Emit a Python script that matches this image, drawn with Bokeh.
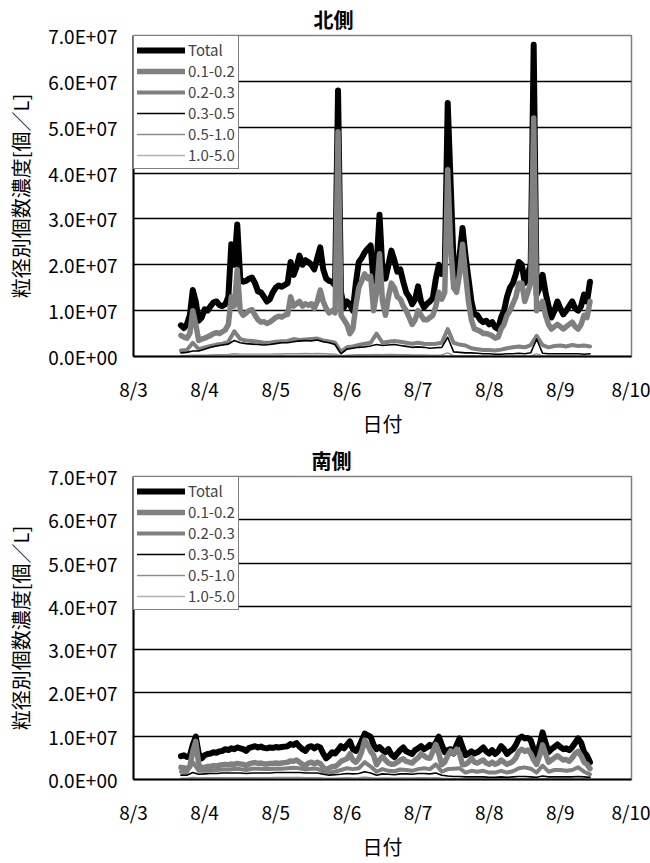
import numpy as np
from bokeh.plotting import figure
from bokeh.layouts import column
from bokeh.models import FixedTicker, Legend, LegendItem
from bokeh.embed import file_html
from bokeh.resources import INLINE

FONT = "Noto Sans CJK JP"

# ---- axis ticks / labels ----
day_ticks = [3, 4, 5, 6, 7, 8, 9, 10]
day_labels = ["8/3", "8/4", "8/5", "8/6", "8/7", "8/8", "8/9", "8/10"]
y_ticks = [0, 10000000, 20000000, 30000000, 40000000, 50000000, 60000000, 70000000]
y_labels = ["0.0E+00", "1.0E+07", "2.0E+07", "3.0E+07", "4.0E+07", "5.0E+07", "6.0E+07", "7.0E+07"]

series_names = ["Total", "0.1-0.2", "0.2-0.3", "0.3-0.5", "0.5-1.0", "1.0-5.0"]

# first sample: 8/3 16:00 ; hourly for Total / 0.1-0.2, 2-hourly for the rest
START_HOUR = 16
UNIT = 1e6  # values below are in 1E+06 個/L

# ================= 北側 =================
north_total = [
    6.8, 6.2, 7.0, 9.0, 14.5, 12.0, 7.8, 8.5,
    10.3, 10.0, 11.0, 11.8, 12.0, 11.2, 11.0, 11.4, 13.0, 24.5, 20.0, 28.8, 17.0, 16.3, 16.5, 17.0,
    17.2, 16.0, 14.2, 14.0, 13.0, 12.0, 12.5, 14.0,
    15.0, 15.5, 15.2, 15.6, 16.0, 20.6, 17.8, 19.5, 22.0, 20.0, 21.0, 20.6, 20.0, 19.0, 21.5, 23.8,
    19.0, 17.0, 16.5, 16.3, 15.5, 58.0, 14.0, 10.7,
    12.0, 11.4, 10.0, 16.0, 20.6, 21.5, 22.7, 23.5, 24.2, 16.3, 20.0, 30.9, 18.5, 17.0, 20.0, 23.1,
    21.0, 18.5, 19.0, 16.3, 14.0, 13.0, 11.4, 12.5,
    15.3, 12.0, 10.7, 11.5, 12.0, 12.8, 17.0, 20.0, 18.0, 19.2, 55.3, 37.5, 20.0, 17.0, 22.0, 28.0,
    22.0, 17.0, 12.0, 9.2, 9.0, 8.0, 7.5, 7.8,
    7.0, 7.5, 6.4, 6.0, 8.5, 10.0, 13.0, 15.0, 16.0, 18.0, 20.6, 20.0, 16.0, 18.0, 20.0, 68.0,
    13.5, 15.0, 17.8, 14.0, 11.0, 8.5, 10.0, 12.0,
    10.5, 9.2, 10.0, 11.0, 12.0, 10.5, 10.0, 11.0, 13.5, 12.0, 16.3,
]
north_01_02 = [
    4.6, 4.2, 4.0, 5.0, 10.0, 7.0, 3.5, 3.8,
    4.0, 4.3, 4.6, 5.0, 5.2, 5.0, 5.4, 5.8, 7.0, 13.0, 11.0, 19.0, 10.0, 9.0, 9.5, 10.0,
    10.2, 9.0, 8.0, 7.5, 7.6, 7.2, 7.5, 8.0,
    8.5, 8.8, 8.6, 9.0, 9.2, 13.0, 11.0, 11.5, 12.0, 11.0, 11.5, 11.2, 11.5, 10.5, 12.0, 14.5,
    12.0, 10.5, 9.5, 10.0, 9.5, 49.0, 9.0, 8.0,
    7.0, 5.0, 6.0, 11.0, 15.0, 16.5, 18.0, 17.0, 17.5, 10.0, 14.0, 22.4, 12.0, 9.0, 13.0, 16.0,
    15.0, 13.0, 12.5, 11.0, 10.0, 8.5, 7.0, 8.0,
    10.0, 9.0, 8.0, 8.0, 8.5, 9.0, 11.0, 14.0, 12.5, 14.0, 40.7, 24.0, 15.0, 14.0, 18.0, 24.5,
    18.0, 12.0, 8.0, 6.0, 5.8, 5.5, 5.0, 5.0,
    4.8, 4.5, 4.0, 4.2, 6.0, 7.0, 9.0, 10.0, 11.5, 13.0, 16.0, 16.0, 12.0, 14.0, 16.0, 52.0,
    10.0, 11.0, 12.0, 9.0, 7.0, 6.0, 6.5, 7.0,
    6.5, 6.0, 6.5, 7.0, 7.5, 6.5, 6.0, 7.0, 9.0, 8.5, 12.0,
]
north_02_03 = [
    1.3, 1.4, 3.0, 1.6, 2.0, 2.3, 2.6, 2.8, 3.2, 5.5,
    3.8, 3.5, 3.4, 3.2, 3.0, 3.0, 3.2, 3.3, 3.4, 3.8,
    3.6, 3.7, 3.8, 3.9, 3.5, 3.3, 3.0, 1.0, 2.0, 2.2,
    2.5, 2.8, 3.0, 5.0, 3.0, 3.2, 3.4, 3.2, 3.0, 2.8,
    3.0, 2.8, 2.7, 2.8, 3.0, 6.0, 3.0, 2.6, 2.4, 1.8,
    1.6, 1.4, 1.4, 1.3, 1.5, 1.8, 2.0, 2.2, 2.0, 2.5,
    4.5, 2.5, 2.0, 2.3, 2.4, 2.2, 2.5, 2.3, 2.4, 2.2,
]
north_03_05 = [
    0.8, 0.9, 1.2, 1.2, 1.6, 2.0, 2.3, 2.5, 2.7, 3.5,
    3.0, 2.8, 2.7, 2.6, 2.5, 2.6, 2.8, 3.0, 3.0, 3.2,
    3.4, 3.5, 3.4, 3.6, 3.2, 3.0, 2.6, 0.6, 1.6, 1.8,
    2.0, 2.1, 2.3, 2.6, 2.4, 2.5, 2.6, 2.4, 2.2, 2.0,
    2.1, 2.0, 1.8, 1.9, 2.0, 4.2, 1.0, 0.9, 0.8, 0.8,
    0.7, 0.6, 0.6, 0.5, 0.5, 0.6, 0.6, 0.7, 0.6, 0.8,
    3.8, 0.7, 0.6, 0.6, 0.6, 0.6, 0.6, 0.6, 0.5, 0.6,
]
north_05_10 = [
    0.2, 0.2, 0.3, 0.3, 0.3, 0.35, 0.4, 0.4, 0.45, 0.6,
    0.5, 0.5, 0.5, 0.5, 0.5, 0.5, 0.55, 0.55, 0.6, 0.6,
    0.6, 0.65, 0.6, 0.65, 0.6, 0.55, 0.5, 0.15, 0.3, 0.35,
    0.4, 0.4, 0.4, 0.45, 0.4, 0.45, 0.45, 0.4, 0.4, 0.35,
    0.35, 0.35, 0.3, 0.3, 0.35, 0.8, 0.2, 0.15, 0.15, 0.15,
    0.12, 0.1, 0.1, 0.1, 0.1, 0.1, 0.1, 0.12, 0.1, 0.15,
    0.6, 0.12, 0.1, 0.1, 0.1, 0.1, 0.1, 0.1, 0.1, 0.1,
]
north_10_50 = [
    0.05, 0.05, 0.08, 0.08, 0.08, 0.1, 0.1, 0.1, 0.12, 0.15,
    0.12, 0.12, 0.12, 0.12, 0.12, 0.12, 0.13, 0.13, 0.14, 0.14,
    0.15, 0.15, 0.15, 0.15, 0.14, 0.13, 0.12, 0.05, 0.08, 0.09,
    0.1, 0.1, 0.1, 0.11, 0.1, 0.11, 0.11, 0.1, 0.1, 0.09,
    0.09, 0.09, 0.08, 0.08, 0.09, 0.2, 0.05, 0.04, 0.04, 0.04,
    0.03, 0.03, 0.03, 0.03, 0.03, 0.03, 0.03, 0.03, 0.03, 0.04,
    0.15, 0.03, 0.03, 0.03, 0.03, 0.03, 0.03, 0.03, 0.03, 0.03,
]

# ================= 南側 =================
south_total = [
    5.4, 5.6, 5.2, 5.5, 8.0, 9.9, 6.0, 4.9,
    5.6, 5.9, 6.0, 6.3, 6.2, 6.5, 6.6, 7.0, 6.8, 7.2, 7.0, 7.4, 7.2, 7.0, 6.6, 7.3,
    7.5, 7.7, 7.4, 7.6, 7.3, 7.2, 7.4, 7.3,
    7.5, 7.4, 7.5, 7.6, 7.7, 8.2, 8.0, 8.4, 7.6, 7.0, 6.6, 7.5, 7.7, 7.2, 7.7, 7.4,
    6.0, 4.9, 5.5, 6.3, 6.0, 6.8, 7.7, 7.2,
    8.0, 8.8, 7.0, 6.6, 7.5, 9.0, 10.6, 10.2, 9.9, 8.0, 7.0, 7.5, 6.8, 6.3, 7.0, 5.8,
    5.2, 6.0, 6.8, 7.4, 6.5, 6.2, 5.9, 6.8,
    7.2, 7.7, 7.0, 7.4, 8.0, 7.5, 8.5, 9.9, 8.0, 6.3, 6.8, 7.0, 6.0, 8.0, 9.5, 7.5,
    5.6, 6.0, 6.5, 6.0, 6.3, 6.8, 7.4, 6.5,
    6.0, 6.8, 5.9, 6.5, 7.7, 7.0, 5.9, 6.5, 7.0, 8.0, 9.5, 9.9, 9.5, 9.6, 9.1, 7.0,
    5.6, 8.0, 10.9, 8.5, 6.3, 7.0, 7.5, 8.1,
    7.5, 7.0, 7.2, 6.8, 7.5, 8.5, 9.5, 8.5, 6.3, 5.5, 4.0,
]
south_01_02 = [
    2.8, 2.7, 2.5, 3.0, 6.5, 8.8, 3.5, 2.5,
    2.8, 3.0, 3.0, 3.2, 3.1, 3.3, 3.4, 3.5, 3.4, 3.6, 3.5, 3.7, 3.6, 3.5, 3.2, 3.6,
    3.8, 3.9, 3.7, 3.8, 3.6, 3.6, 3.7, 3.7,
    3.8, 3.7, 3.8, 3.9, 4.0, 4.3, 4.2, 4.5, 4.0, 3.5, 3.2, 3.8, 4.0, 3.6, 4.0, 3.7,
    2.8, 2.2, 2.6, 3.0, 3.0, 3.5, 4.2, 4.5,
    4.8, 5.9, 4.5, 4.0, 4.8, 6.5, 9.1, 8.0, 6.5, 5.6, 3.4, 4.5, 5.3, 4.5, 3.8, 3.5,
    3.6, 4.0, 4.5, 4.8, 4.2, 4.0, 3.8, 4.5,
    5.0, 5.9, 5.5, 5.0, 4.9, 6.5, 8.1, 6.0, 3.4, 4.0, 5.5, 6.6, 6.0, 7.0, 6.0, 3.4,
    3.5, 4.0, 4.9, 4.0, 3.8, 4.2, 4.5, 3.8,
    3.5, 4.0, 3.5, 3.8, 4.5, 4.0, 3.5, 3.8, 4.2, 5.0, 6.5, 7.0, 6.5, 6.8, 6.0, 4.5,
    3.5, 5.5, 8.0, 6.0, 4.0, 4.5, 5.0, 5.5,
    5.0, 4.5, 4.6, 4.2, 5.0, 6.0, 6.5, 5.5, 4.0, 3.5, 2.5,
]
south_02_03 = [
    1.8, 1.7, 4.0, 2.0, 2.0, 2.1, 2.2, 2.3, 2.3, 2.4,
    2.4, 2.2, 2.5, 2.5, 2.4, 2.4, 2.5, 2.5, 2.6, 2.7,
    2.6, 2.3, 2.5, 2.5, 1.8, 1.6, 1.8, 2.2, 2.6, 2.4,
    2.6, 4.0, 3.0, 1.8, 2.4, 2.0, 1.9, 2.3, 2.2, 2.0,
    2.4, 2.6, 2.4, 3.5, 1.8, 2.4, 2.5, 2.6, 1.6, 2.0,
    1.8, 2.0, 1.6, 1.6, 2.0, 1.6, 1.9, 2.6, 2.8, 2.5,
    1.6, 3.2, 1.8, 2.2, 2.2, 2.0, 2.2, 2.8, 1.8, 1.2,
]
south_03_05 = [
    1.0, 1.0, 1.6, 1.2, 1.3, 1.4, 1.4, 1.5, 1.5, 1.5,
    1.5, 1.4, 1.5, 1.5, 1.5, 1.5, 1.6, 1.6, 1.6, 1.6,
    1.6, 1.5, 1.5, 1.5, 1.2, 1.0, 1.1, 1.2, 1.4, 1.3,
    1.4, 1.8, 1.5, 1.0, 1.3, 1.2, 1.1, 1.3, 1.3, 1.2,
    1.4, 1.4, 1.3, 1.5, 1.0, 0.8, 0.7, 0.7, 0.6, 0.6,
    0.6, 0.6, 0.5, 0.5, 0.6, 0.5, 0.6, 0.7, 0.7, 0.6,
    0.5, 0.8, 0.6, 0.6, 0.6, 0.6, 0.6, 0.7, 0.6, 0.5,
]
south_05_10 = [
    0.3, 0.3, 0.5, 0.35, 0.4, 0.4, 0.4, 0.45, 0.45, 0.45,
    0.45, 0.4, 0.45, 0.45, 0.45, 0.45, 0.5, 0.5, 0.5, 0.5,
    0.5, 0.45, 0.45, 0.45, 0.35, 0.3, 0.32, 0.35, 0.4, 0.38,
    0.4, 0.55, 0.45, 0.3, 0.38, 0.35, 0.32, 0.38, 0.38, 0.35,
    0.4, 0.4, 0.38, 0.45, 0.3, 0.25, 0.2, 0.2, 0.18, 0.18,
    0.18, 0.18, 0.15, 0.15, 0.18, 0.15, 0.18, 0.2, 0.2, 0.18,
    0.15, 0.25, 0.18, 0.18, 0.18, 0.18, 0.18, 0.2, 0.18, 0.15,
]
south_10_50 = [
    0.05, 0.05, 0.1, 0.06, 0.07, 0.07, 0.07, 0.08, 0.08, 0.08,
    0.08, 0.07, 0.08, 0.08, 0.08, 0.08, 0.09, 0.09, 0.09, 0.09,
    0.09, 0.08, 0.08, 0.08, 0.06, 0.05, 0.06, 0.06, 0.07, 0.07,
    0.07, 0.1, 0.08, 0.05, 0.07, 0.06, 0.06, 0.07, 0.07, 0.06,
    0.07, 0.07, 0.07, 0.08, 0.05, 0.04, 0.04, 0.04, 0.03, 0.03,
    0.03, 0.03, 0.03, 0.03, 0.03, 0.03, 0.03, 0.04, 0.04, 0.03,
    0.03, 0.05, 0.03, 0.03, 0.03, 0.03, 0.03, 0.04, 0.03, 0.03,
]

# ---- styles per series ----
line_colors = ["#000000", "#808080", "#808080", "#000000", "#8c8c8c", "#b2b2b2"]
line_widths = [6.0, 5.5, 4.0, 1.6, 1.3, 1.3]
step_hours = [1, 1, 2, 2, 2, 2]


def make_chart(title, series, height, border_left, border_top, border_bottom, title_offset):
    p = figure(width=650, height=height, x_range=(3, 10), y_range=(0, 70000000),
               output_backend="svg", toolbar_location=None,
               min_border_left=border_left, min_border_right=19,
               min_border_top=border_top, min_border_bottom=border_bottom)
    p.background_fill_color = "white"
    p.border_fill_color = "white"
    p.outline_line_color = "#808080"
    p.outline_line_width = 1.5

    p.title.text = title
    p.title.align = "left"
    p.title.offset = title_offset
    p.title.standoff = 3
    p.title.text_font = FONT
    p.title.text_font_size = "20px"
    p.title.text_font_style = "bold"
    p.title.text_color = "black"

    items = []
    for name, vals, col, lw, st in zip(series_names, series, line_colors, line_widths, step_hours):
        x = 3 + (START_HOUR + st * np.arange(len(vals))) / 24.0
        y = np.array(vals) * UNIT
        r = p.line(x, y, line_color=col, line_width=lw, line_join="round", line_cap="round")
        items.append(LegendItem(label=name, renderers=[r]))

    # axes
    p.xaxis.ticker = FixedTicker(ticks=day_ticks)
    p.xaxis.major_label_overrides = {t: l for t, l in zip(day_ticks, day_labels)}
    p.yaxis.ticker = FixedTicker(ticks=y_ticks)
    p.yaxis.major_label_overrides = {t: l for t, l in zip(y_ticks, y_labels)}
    for ax in (p.xaxis[0], p.yaxis[0]):
        ax.axis_line_color = "black"
        ax.axis_line_width = 2
        ax.major_tick_in = 0
        ax.major_tick_out = 0
        ax.minor_tick_in = 0
        ax.minor_tick_out = 0
        ax.major_label_text_font = FONT
        ax.major_label_text_font_size = "19px"
        ax.major_label_text_color = "black"
        ax.axis_label_text_font = FONT
        ax.axis_label_text_font_size = "20px"
        ax.axis_label_text_font_style = "normal"
        ax.axis_label_text_color = "black"
    p.xaxis.axis_label = "日付"
    p.xaxis.major_label_standoff = 18
    p.xaxis.axis_label_standoff = 4
    p.yaxis.axis_label = "粒径別個数濃度[個／L]"
    p.yaxis.major_label_standoff = 16
    p.yaxis.axis_label_standoff = 10

    p.xgrid.visible = False
    p.ygrid.ticker = FixedTicker(ticks=y_ticks[1:-1])
    p.ygrid.grid_line_color = "black"
    p.ygrid.grid_line_width = 1.5

    legend = Legend(items=items, location="top_left", margin=0, padding=3, spacing=0,
                    glyph_width=48, glyph_height=20, label_height=20, label_standoff=3,
                    label_text_font=FONT, label_text_font_size="15px",
                    label_text_line_height=1.0,
                    border_line_color="black", border_line_width=1.5,
                    background_fill_color="white", background_fill_alpha=1.0)
    p.add_layout(legend)
    return p


north_series = [north_total, north_01_02, north_02_03, north_03_05, north_05_10, north_10_50]
south_series = [south_total, south_01_02, south_02_03, south_03_05, south_05_10, south_10_50]

p1 = make_chart("北側", north_series, 440, 133, 35, 77, 180)
p2 = make_chart("南側", south_series, 423, 131, 36, 64, 178)

layout = column(p1, p2, spacing=0)
open("out.html", "w").write(file_html(layout, INLINE))
